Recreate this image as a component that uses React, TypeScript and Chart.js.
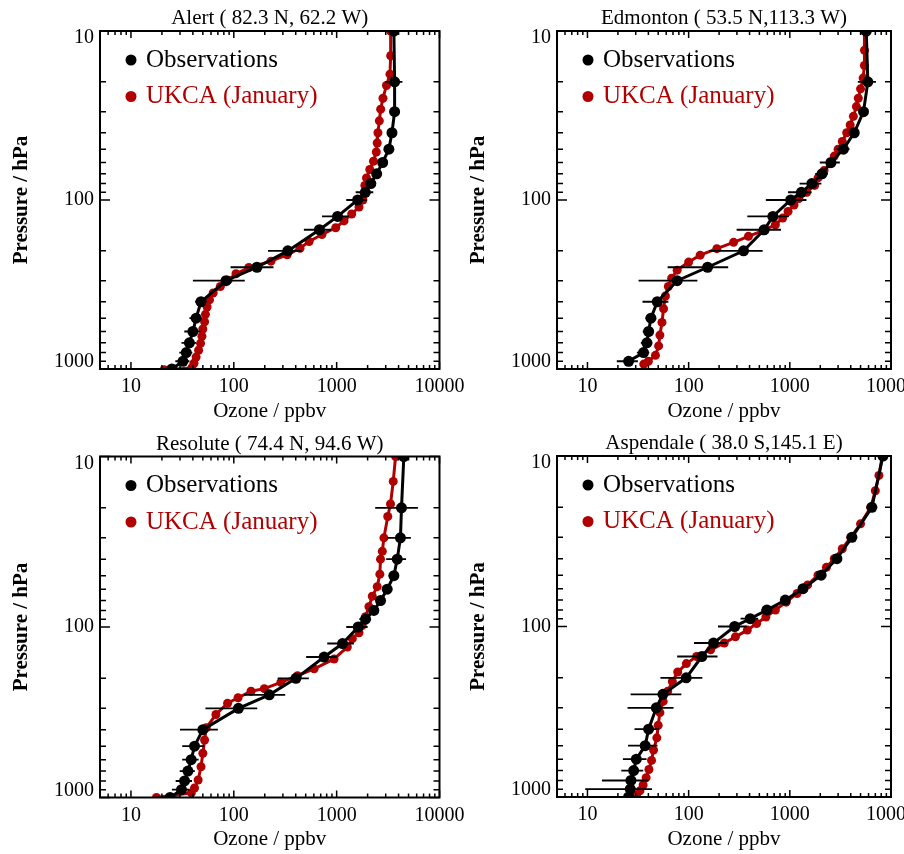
import React, { useEffect, useRef } from "react";
import { Chart, registerables } from "chart.js";

Chart.register(...registerables);

const SERIF = "'Liberation Serif', 'Times New Roman', Times, serif";
const OBS_COLOR = "#000000";
const MODEL_COLOR = "#b00000";

const X_MIN = 5;
const X_MAX = 10000;
const Y_MIN = 10;
const Y_MAX = 1000;
const xDecadeLabels = [10, 100, 1000, 10000];
const yDecadeLabels = [10, 100, 1000];

const seriesNames = ["Observations", "UKCA (January)"];
const xAxisTitle = "Ozone / ppbv";
const yAxisTitle = "Pressure / hPa";

// ---- Alert (82.3 N, 62.2 W) ----
const alertObsPressure = [10, 20, 30, 40, 50, 60, 70, 80, 90, 100, 125, 150, 200, 250, 300, 400, 500, 600, 700, 800, 900, 1000];
const alertObsOzone = [3600, 3660, 3660, 3450, 3220, 2800, 2450, 2150, 1900, 1600, 1020, 680, 335, 168, 84, 48, 43, 40, 37, 34.5, 32, 25];
const alertObsSd = [150, 700, 400, 250, 250, 250, 250, 250, 370, 360, 300, 200, 120, 75, 44, 6, 6, 7, 6, 5, 5, 5];
const alertModelPressure = [10, 14, 18, 21, 25, 29, 34, 40, 46, 52, 59, 66, 74, 82, 91, 100, 110, 121, 133, 146, 160, 176, 193, 211, 230, 251, 273, 298, 325, 355, 390, 430, 475, 525, 580, 640, 705, 775, 850, 925, 985, 1010];
const alertModelOzone = [3350, 3350, 3300, 3050, 2820, 2680, 2600, 2520, 2480, 2430, 2280, 2100, 1950, 1880, 1850, 1800, 1650, 1400, 1180, 980, 720, 540, 440, 330, 230, 140, 105, 88, 74, 63, 58, 55, 53, 52, 50, 49, 47.5, 45.5, 43, 41, 39, 21];

// ---- Edmonton (53.5 N, 113.3 W) ----
const edmontonObsPressure = [10, 20, 30, 40, 50, 60, 70, 80, 90, 100, 125, 150, 200, 250, 300, 400, 500, 600, 700, 800, 900];
const edmontonObsOzone = [5700, 5900, 5350, 4330, 3390, 2550, 2080, 1650, 1300, 1020, 680, 558, 349, 154, 77, 49, 42.4, 40.2, 38.7, 35.8, 25.5];
const edmontonObsSd = [200, 1200, 500, 300, 500, 570, 300, 400, 340, 440, 300, 260, 190, 92, 45, 14, 5, 5, 5, 5, 6];
const edmontonModelPressure = [10, 13, 16, 19, 22, 25, 28, 32, 36, 40, 45, 50, 55, 61, 67, 74, 82, 90, 98, 107, 117, 128, 140, 152, 164, 178, 194, 212, 233, 260, 290, 325, 370, 440, 530, 630, 730, 830, 900, 935];
const edmontonModelOzone = [5470, 5470, 5460, 5300, 5000, 4750, 4550, 4250, 3950, 3650, 3300, 3000, 2750, 2500, 2180, 1900, 1760, 1470, 1230, 1100, 960, 850, 720, 540, 390, 278, 190, 130, 100, 77, 68, 63, 59, 56.5, 54.5, 52, 50.5, 47, 40, 36];

// ---- Resolute (74.4 N, 94.6 W) ----
const resoluteObsPressure = [10, 20, 30, 40, 50, 60, 70, 80, 90, 100, 125, 150, 200, 250, 300, 400, 500, 600, 700, 800, 900, 1000];
const resoluteObsOzone = [4500, 4270, 4170, 3880, 3600, 3100, 2670, 2300, 1910, 1620, 1140, 755, 402, 221, 111, 50, 41.5, 38.5, 35.8, 33.2, 31, 24];
const resoluteObsSd = [200, 1900, 1100, 850, 400, 250, 250, 250, 250, 380, 330, 250, 135, 95, 58, 20, 10, 7, 6, 6, 6, 6];
const resoluteModelPressure = [10, 14, 19, 22.5, 30, 36, 40, 49, 58, 66, 76, 87, 98, 108, 117, 131, 154, 176, 193, 211, 230, 238, 260, 280, 326, 390, 460, 550, 660, 790, 880, 940, 1000];
const resoluteModelOzone = [3740, 3550, 3340, 3140, 2880, 2780, 2670, 2630, 2480, 2220, 2060, 1910, 1770, 1650, 1420, 1270, 944, 604, 417, 287, 198, 147, 110, 87, 67, 54, 52, 50, 48, 45, 41.5, 38.6, 17.7];

// ---- Aspendale (38.0 S, 145.1 E) ----
const aspendaleObsPressure = [10, 20, 30, 40, 50, 60, 70, 80, 90, 100, 125, 150, 200, 250, 300, 400, 500, 600, 700, 800, 900, 1000];
const aspendaleObsOzone = [8320, 6470, 4110, 2920, 2040, 1350, 902, 594, 406, 285, 176, 135, 94.6, 55.7, 47.9, 40.2, 37.2, 30.4, 28.6, 26.9, 26.5, 25.5];
const aspendaleObsSd = [150, 300, 250, 200, 150, 100, 80, 70, 80, 90, 63, 58, 42, 29, 23, 11, 12, 8, 7, 13, 17, 8];
const aspendaleModelPressure = [10, 13, 16, 20, 25, 30, 35, 40, 45, 50, 57, 64, 72, 80, 88, 96, 105, 115, 125, 137, 150, 165, 185, 210, 240, 275, 320, 380, 450, 530, 610, 690, 770, 850, 920, 980];
const aspendaleModelOzone = [8200, 7600, 7000, 6300, 5000, 4000, 3300, 2750, 2300, 1900, 1500, 1180, 920, 720, 580, 470, 380, 290, 225, 165, 120, 95, 78, 69, 62, 56, 52, 50, 48.5, 45, 43, 40.5, 38, 35.5, 33, 30.5];

type Box = { left: number; top: number; right: number; bottom: number };
type Panel = {
  title: string;
  obsP: number[];
  obsV: number[];
  obsSd: number[];
  modP: number[];
  modV: number[];
  box: Box;
};

const PAGE_W = 904;
const PAGE_H = 854;

const panels: Panel[] = [
  {
    title: "Alert ( 82.3 N, 62.2 W)",
    obsP: alertObsPressure, obsV: alertObsOzone, obsSd: alertObsSd,
    modP: alertModelPressure, modV: alertModelOzone,
    box: { left: 100, top: 31, right: 439.5, bottom: 369 },
  },
  {
    title: "Edmonton ( 53.5 N,113.3 W)",
    obsP: edmontonObsPressure, obsV: edmontonObsOzone, obsSd: edmontonObsSd,
    modP: edmontonModelPressure, modV: edmontonModelOzone,
    box: { left: 557, top: 31, right: 891, bottom: 369 },
  },
  {
    title: "Resolute ( 74.4 N, 94.6 W)",
    obsP: resoluteObsPressure, obsV: resoluteObsOzone, obsSd: resoluteObsSd,
    modP: resoluteModelPressure, modV: resoluteModelOzone,
    box: { left: 100, top: 456.5, right: 439.5, bottom: 797.5 },
  },
  {
    title: "Aspendale ( 38.0 S,145.1 E)",
    obsP: aspendaleObsPressure, obsV: aspendaleObsOzone, obsSd: aspendaleObsSd,
    modP: aspendaleModelPressure, modV: aspendaleModelOzone,
    box: { left: 557, top: 456, right: 891, bottom: 797 },
  },
];

// 1..9 x 10^n tick values between min and max; decades are major
function logTicks(min: number, max: number) {
  const out: { v: number; major: boolean }[] = [];
  const e0 = Math.floor(Math.log10(min));
  const e1 = Math.ceil(Math.log10(max));
  for (let e = e0; e <= e1; e++) {
    for (let m = 1; m <= 9; m++) {
      const v = m * Math.pow(10, e);
      if (v >= min * 0.999 && v <= max * 1.001) out.push({ v, major: m === 1 });
    }
  }
  return out;
}

function makeFramePlugin(panel: Panel) {
  return {
    id: "ozoneFrame",
    afterDatasetsDraw(chart: any) {
      const ctx: CanvasRenderingContext2D = chart.ctx;
      const a = chart.chartArea;
      const xs = chart.scales.x;
      const ys = chart.scales.y;
      const L = a.left, R = a.right, T = a.top, B = a.bottom;

      // horizontal error bars on the observations
      ctx.save();
      ctx.beginPath();
      ctx.rect(L, T, R - L, B - T);
      ctx.clip();
      ctx.strokeStyle = OBS_COLOR;
      ctx.lineWidth = 1.8;
      ctx.beginPath();
      panel.obsP.forEach((p, i) => {
        const v = panel.obsV[i];
        const s = panel.obsSd[i];
        const py = ys.getPixelForValue(p);
        const x0 = xs.getPixelForValue(Math.max(v - s, 1));
        const x1 = xs.getPixelForValue(v + s);
        ctx.moveTo(x0, py);
        ctx.lineTo(x1, py);
      });
      ctx.stroke();
      ctx.restore();

      ctx.save();
      // box and inward ticks on all four sides
      ctx.strokeStyle = "#000";
      ctx.lineWidth = 2;
      ctx.strokeRect(L, T, R - L, B - T);
      ctx.lineWidth = 1.5;
      ctx.beginPath();
      for (const t of logTicks(X_MIN, X_MAX)) {
        const px = xs.getPixelForValue(t.v);
        const len = t.major ? 7 : 4;
        ctx.moveTo(px, B);
        ctx.lineTo(px, B - len);
        ctx.moveTo(px, T);
        ctx.lineTo(px, T + len);
      }
      for (const t of logTicks(Y_MIN, Y_MAX)) {
        const py = ys.getPixelForValue(t.v);
        const len = t.major ? 10 : 6;
        ctx.moveTo(L, py);
        ctx.lineTo(L + len, py);
        ctx.moveTo(R, py);
        ctx.lineTo(R - len, py);
      }
      ctx.stroke();

      // tick labels
      ctx.fillStyle = "#000";
      ctx.textBaseline = "middle";
      ctx.font = `20px ${SERIF}`;
      ctx.textAlign = "center";
      xDecadeLabels.forEach((v) => ctx.fillText(String(v), xs.getPixelForValue(v), B + 18));
      ctx.textAlign = "right";
      yDecadeLabels.forEach((v) => {
        const py = Math.min(Math.max(ys.getPixelForValue(v), T + 7), B - 7);
        ctx.fillText(String(v), L - 6, py);
      });

      // titles
      ctx.textAlign = "center";
      ctx.font = `21px ${SERIF}`;
      ctx.fillText(panel.title, (L + R) / 2, T - 12.5);
      ctx.fillText(xAxisTitle, (L + R) / 2, B + 42);
      ctx.save();
      ctx.translate(L - 78, (T + B) / 2);
      ctx.rotate(-Math.PI / 2);
      ctx.font = `bold 21px ${SERIF}`;
      ctx.fillText(yAxisTitle, 0, 0);
      ctx.restore();

      // legend
      const rows = [
        { color: OBS_COLOR, text: seriesNames[0], dy: 29 },
        { color: MODEL_COLOR, text: seriesNames[1], dy: 65.5 },
      ];
      ctx.font = `25px ${SERIF}`;
      ctx.textAlign = "left";
      rows.forEach((r) => {
        ctx.fillStyle = r.color;
        ctx.beginPath();
        ctx.arc(L + 31, T + r.dy, 5.5, 0, Math.PI * 2);
        ctx.fill();
        ctx.fillText(r.text, L + 46, T + r.dy);
      });
      ctx.restore();
    },
  };
}

function OzonePanel({ panel }: { panel: Panel }) {
  const ref = useRef<HTMLCanvasElement | null>(null);

  useEffect(() => {
    const canvas = ref.current;
    if (!canvas) return;
    const b = panel.box;
    const chart = new Chart(canvas, {
      type: "scatter",
      data: {
        datasets: [
          {
            label: seriesNames[0],
            data: panel.obsP.map((p, i) => ({ x: panel.obsV[i], y: p })),
            showLine: true,
            borderColor: OBS_COLOR,
            backgroundColor: OBS_COLOR,
            borderWidth: 3,
            pointRadius: 5.5,
            pointBorderWidth: 0,
            pointBackgroundColor: OBS_COLOR,
            clip: 0,
          },
          {
            label: seriesNames[1],
            data: panel.modP.map((p, i) => ({ x: panel.modV[i], y: p })),
            showLine: true,
            borderColor: MODEL_COLOR,
            backgroundColor: MODEL_COLOR,
            borderWidth: 3,
            pointRadius: 4.5,
            pointBorderWidth: 0,
            pointBackgroundColor: MODEL_COLOR,
            clip: 0,
          },
        ],
      },
      options: {
        responsive: false,
        animation: false,
        devicePixelRatio: 1,
        events: [],
        layout: {
          padding: {
            left: b.left,
            top: b.top,
            right: PAGE_W - b.right,
            bottom: PAGE_H - b.bottom,
          },
        },
        scales: {
          x: { type: "logarithmic", min: X_MIN, max: X_MAX, display: false },
          y: { type: "logarithmic", min: Y_MIN, max: Y_MAX, reverse: true, display: false },
        },
        plugins: {
          legend: { display: false },
          tooltip: { enabled: false },
          title: { display: false },
        },
      },
      plugins: [makeFramePlugin(panel)],
    } as any);
    return () => chart.destroy();
  }, [panel]);

  return (
    <canvas
      ref={ref}
      width={PAGE_W}
      height={PAGE_H}
      style={{ position: "absolute", left: 0, top: 0 }}
    />
  );
}

export default function App() {
  return (
    <div
      style={{
        position: "absolute",
        left: 0,
        top: 0,
        width: PAGE_W,
        height: PAGE_H,
        overflow: "hidden",
        background: "#fff",
      }}
    >
      {panels.map((p, i) => (
        <OzonePanel key={i} panel={p} />
      ))}
    </div>
  );
}
